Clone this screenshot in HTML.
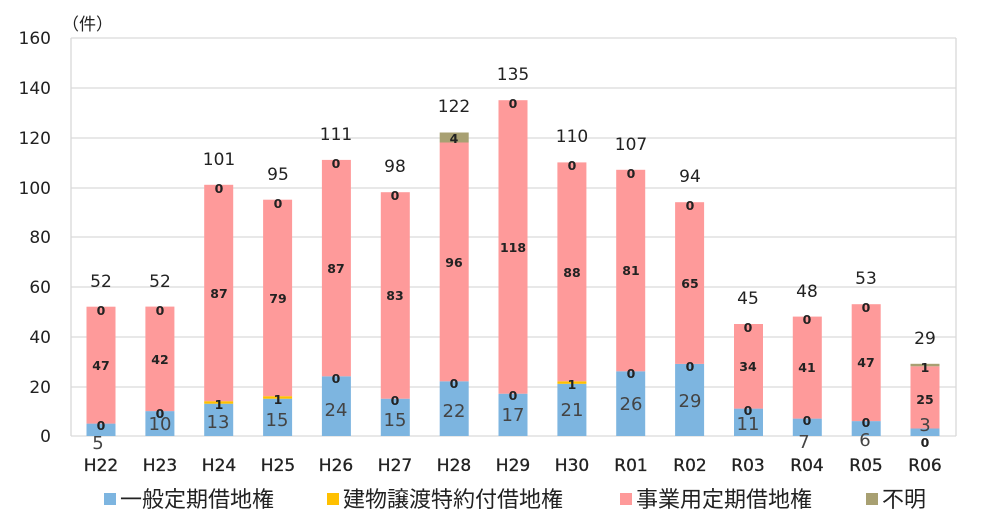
<!DOCTYPE html>
<html><head><meta charset="utf-8"><style>
body{margin:0;background:#fff;}
svg{display:block;font-family:"DejaVu Sans","Noto Sans CJK JP",sans-serif;}
.t{font-size:17px;fill:#222;text-anchor:middle}
.ax{font-size:17px;fill:#222;text-anchor:end}
.in{font-size:12.5px;font-weight:bold;fill:#222;text-anchor:middle}
.bl{font-size:18px;fill:#444;text-anchor:middle}
.xl{font-size:17px;fill:#222;text-anchor:middle;stroke:#222;stroke-width:0.3}
.b{fill:#7db5e0}.y{fill:#ffc000}.p{fill:#fe9a9a}.u{fill:#a8a072}
.lg{font-family:"Noto Sans CJK JP",sans-serif;font-size:22px;fill:#222}
</style></head><body>
<svg width="985" height="522" viewBox="0 0 985 522">
<g stroke="#d9d9d9" stroke-width="1.3">
<line x1="71" y1="38" x2="956" y2="38"/><line x1="71" y1="88" x2="956" y2="88"/>
<line x1="71" y1="138" x2="956" y2="138"/><line x1="71" y1="188" x2="956" y2="188"/>
<line x1="71" y1="237" x2="956" y2="237"/><line x1="71" y1="287" x2="956" y2="287"/>
<line x1="71" y1="337" x2="956" y2="337"/><line x1="71" y1="387" x2="956" y2="387"/>
<line x1="71" y1="436" x2="956" y2="436"/>
<line x1="71" y1="38" x2="71" y2="436"/><line x1="956" y1="38" x2="956" y2="436"/>
</g>
<text x="62" y="30" style="font-family:'Noto Sans CJK JP',sans-serif;font-size:17px;fill:#222">（件）</text>
<text class="ax" x="51" y="44">160</text><text class="ax" x="51" y="94">140</text>
<text class="ax" x="51" y="144">120</text><text class="ax" x="51" y="194">100</text>
<text class="ax" x="51" y="243">80</text><text class="ax" x="51" y="293">60</text>
<text class="ax" x="51" y="343">40</text><text class="ax" x="51" y="393">20</text>
<text class="ax" x="51" y="442">0</text>

<rect class="b" x="86.5" y="423.6" width="29" height="12.4"/><rect class="p" x="86.5" y="306.7" width="29" height="116.9"/>
<rect class="b" x="145.4" y="411.1" width="29" height="24.9"/><rect class="p" x="145.4" y="306.6" width="29" height="104.5"/>
<rect class="b" x="204.2" y="403.7" width="29" height="32.3"/><rect class="y" x="204.2" y="401.2" width="29" height="2.5"/><rect class="p" x="204.2" y="184.8" width="29" height="216.4"/>
<rect class="b" x="263.1" y="398.7" width="29" height="37.3"/><rect class="y" x="263.1" y="396.2" width="29" height="2.5"/><rect class="p" x="263.1" y="199.7" width="29" height="196.5"/>
<rect class="b" x="321.9" y="376.3" width="29" height="59.7"/><rect class="p" x="321.9" y="159.9" width="29" height="216.4"/>
<rect class="b" x="380.8" y="398.7" width="29" height="37.3"/><rect class="p" x="380.8" y="192.2" width="29" height="206.5"/>
<rect class="b" x="439.7" y="381.3" width="29" height="54.7"/><rect class="p" x="439.7" y="142.5" width="29" height="238.8"/><rect class="u" x="439.7" y="132.5" width="29" height="10"/>
<rect class="b" x="498.5" y="393.7" width="29" height="42.3"/><rect class="p" x="498.5" y="100.2" width="29" height="293.5"/>
<rect class="b" x="557.4" y="383.8" width="29" height="52.2"/><rect class="y" x="557.4" y="381.3" width="29" height="2.5"/><rect class="p" x="557.4" y="162.4" width="29" height="218.9"/>
<rect class="b" x="616.2" y="371.3" width="29" height="64.7"/><rect class="p" x="616.2" y="169.8" width="29" height="201.5"/>
<rect class="b" x="675.1" y="363.9" width="29" height="72.1"/><rect class="p" x="675.1" y="202.2" width="29" height="161.7"/>
<rect class="b" x="734" y="408.6" width="29" height="27.4"/><rect class="p" x="734" y="324" width="29" height="84.6"/>
<rect class="b" x="792.8" y="418.6" width="29" height="17.4"/><rect class="p" x="792.8" y="316.6" width="29" height="102"/>
<rect class="b" x="851.7" y="421.1" width="29" height="14.9"/><rect class="p" x="851.7" y="304.2" width="29" height="116.9"/>
<rect class="b" x="910.5" y="428.5" width="29" height="7.5"/><rect class="p" x="910.5" y="366.3" width="29" height="62.2"/><rect class="u" x="910.5" y="363.8" width="29" height="2.5"/>

<text class="t" x="101" y="287">52</text><text class="t" x="160" y="287">52</text>
<text class="t" x="219" y="165">101</text><text class="t" x="278" y="180">95</text>
<text class="t" x="336" y="140">111</text><text class="t" x="395" y="172">98</text>
<text class="t" x="454" y="112">122</text><text class="t" x="513" y="80">135</text>
<text class="t" x="572" y="142">110</text><text class="t" x="631" y="150">107</text>
<text class="t" x="690" y="182">94</text><text class="t" x="748" y="304">45</text>
<text class="t" x="807" y="297">48</text><text class="t" x="866" y="284">53</text>
<text class="t" x="925" y="344">29</text>

<text class="in" x="101" y="315">0</text><text class="in" x="160" y="315">0</text>
<text class="in" x="219" y="193">0</text><text class="in" x="278" y="208">0</text>
<text class="in" x="336" y="168">0</text><text class="in" x="395" y="200">0</text>
<text class="in" x="454" y="143">4</text><text class="in" x="513" y="108">0</text>
<text class="in" x="572" y="170">0</text><text class="in" x="631" y="178">0</text>
<text class="in" x="690" y="210">0</text><text class="in" x="748" y="332">0</text>
<text class="in" x="807" y="324">0</text><text class="in" x="866" y="312">0</text>
<text class="in" x="925" y="372">1</text>

<text class="in" x="101" y="370">47</text><text class="in" x="160" y="364">42</text>
<text class="in" x="219" y="298">87</text><text class="in" x="278" y="303">79</text>
<text class="in" x="336" y="273">87</text><text class="in" x="395" y="300">83</text>
<text class="in" x="454" y="267">96</text><text class="in" x="513" y="252">118</text>
<text class="in" x="572" y="277">88</text><text class="in" x="631" y="275">81</text>
<text class="in" x="690" y="288">65</text><text class="in" x="748" y="371">34</text>
<text class="in" x="807" y="372">41</text><text class="in" x="866" y="367">47</text>
<text class="in" x="925" y="404">25</text>

<text class="in" x="101" y="430">0</text><text class="in" x="160" y="418">0</text>
<text class="in" x="219" y="409">1</text><text class="in" x="278" y="404">1</text>
<text class="in" x="336" y="383">0</text><text class="in" x="395" y="405">0</text>
<text class="in" x="454" y="388">0</text><text class="in" x="513" y="400">0</text>
<text class="in" x="572" y="389">1</text><text class="in" x="631" y="378">0</text>
<text class="in" x="690" y="371">0</text><text class="in" x="748" y="415">0</text>
<text class="in" x="807" y="425">0</text><text class="in" x="866" y="427">0</text>
<text class="in" x="925" y="447">0</text>

<text class="bl" x="98" y="449">5</text><text class="bl" x="160" y="430">10</text>
<text class="bl" x="218" y="428">13</text><text class="bl" x="277" y="426">15</text>
<text class="bl" x="336" y="416">24</text><text class="bl" x="395" y="426">15</text>
<text class="bl" x="454" y="417">22</text><text class="bl" x="513" y="421">17</text>
<text class="bl" x="572" y="416">21</text><text class="bl" x="631" y="410">26</text>
<text class="bl" x="690" y="407">29</text><text class="bl" x="748" y="430">11</text>
<text class="bl" x="804" y="448">7</text><text class="bl" x="865" y="446">6</text>
<text class="bl" x="925" y="431">3</text>

<text class="xl" x="101" y="471">H22</text><text class="xl" x="160" y="471">H23</text>
<text class="xl" x="219" y="471">H24</text><text class="xl" x="278" y="471">H25</text>
<text class="xl" x="336" y="471">H26</text><text class="xl" x="395" y="471">H27</text>
<text class="xl" x="454" y="471">H28</text><text class="xl" x="513" y="471">H29</text>
<text class="xl" x="572" y="471">H30</text><text class="xl" x="631" y="471">R01</text>
<text class="xl" x="690" y="471">R02</text><text class="xl" x="748" y="471">R03</text>
<text class="xl" x="807" y="471">R04</text><text class="xl" x="866" y="471">R05</text>
<text class="xl" x="925" y="471">R06</text>

<g class="lg">
<rect class="b" x="104" y="493" width="12" height="12"/><text x="120" y="507">一般定期借地権</text>
<rect class="y" x="327" y="493" width="12" height="12"/><text x="343" y="507">建物譲渡特約付借地権</text>
<rect class="p" x="620" y="493" width="12" height="12"/><text x="636" y="507">事業用定期借地権</text>
<rect class="u" x="866" y="493" width="12" height="12"/><text x="882" y="507">不明</text>
</g>
</svg>
</body></html>
